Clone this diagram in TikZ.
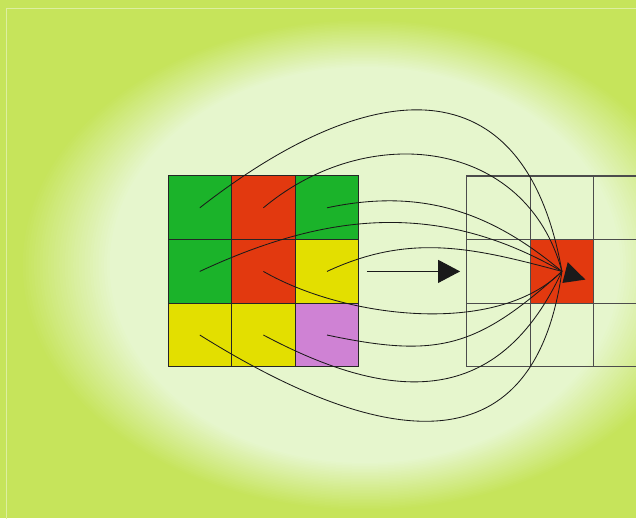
\documentclass[tikz,border=0pt]{standalone}
\usepackage{xcolor}
\definecolor{leaf}{HTML}{1BB32A}
\definecolor{rust}{HTML}{E2390F}
\definecolor{lemon}{HTML}{E3DF00}
\definecolor{orchid}{HTML}{CF82D4}
\definecolor{bgout}{HTML}{C6E45B}
\definecolor{bgin}{HTML}{E6F6CD}
\definecolor{rim}{HTML}{DDEFA0}
\definecolor{ink}{HTML}{1A1A1A}
\usetikzlibrary{arrows.meta, positioning}

\begin{document}
\begin{tikzpicture}[x=0.025cm, y=0.025cm,
    cell/.style={draw=black!85, line width=0.7pt, minimum size=1.59cm, inner sep=0pt, outer sep=0pt},
    slot/.style={draw=black!70, line width=0.8pt, minimum size=1.59cm, inner sep=0pt, outer sep=0pt},
    link/.style={draw=ink, line width=0.6pt},
    move/.style={draw=ink, line width=0.7pt, -{Triangle[length=0.55cm, width=0.575cm]}}]
  \useasboundingbox (0,0) rectangle (636,518);
  \clip (0,0) rectangle (636,518);
  % Backdrop: green rim fading into a pale oval.
  \fill[bgout] (0,0) rectangle (636,518);
  \foreach \k in {0,...,32} {
    \pgfmathsetmacro\mix{100*\k/32}
    \fill[bgin!\mix!bgout] (365,253) ellipse [x radius={(345-2.8*\k)*0.025cm}, y radius={(246-1.5*\k)*0.025cm}];
  }
  \draw[rim, line width=0.6pt] (6,-20) -- (6,510) -- (700,510);
  % Input grid.
  \node[cell, fill=leaf]                      (a11) at (199.8,310.2) {};
  \node[cell, fill=rust,   right=0pt of a11]  (a12) {};
  \node[cell, fill=leaf,   right=0pt of a12]  (a13) {};
  \node[cell, fill=leaf,   below=0pt of a11]  (a21) {};
  \node[cell, fill=rust,   right=0pt of a21]  (a22) {};
  \node[cell, fill=lemon,  right=0pt of a22]  (a23) {};
  \node[cell, fill=lemon,  below=0pt of a21]  (a31) {};
  \node[cell, fill=lemon,  right=0pt of a31]  (a32) {};
  \node[cell, fill=orchid, right=0pt of a32]  (a33) {};
  % Output grid, only the middle cell is filled.
  \node[slot]                      (b11) at (498.3,310.2) {};
  \node[slot, right=0pt of b11]    (b12) {};
  \node[slot, right=0pt of b12]    (b13) {};
  \node[slot, below=0pt of b11]    (b21) {};
  \node[slot, fill=rust, right=0pt of b21] (b22) {};
  \node[slot, right=0pt of b22]    (b23) {};
  \node[slot, below=0pt of b21]    (b31) {};
  \node[slot, right=0pt of b31]    (b32) {};
  \node[slot, right=0pt of b32]    (b33) {};
  % Every input cell feeds the target cell.
  \draw[link] (a11.center) to[out=38,  in=100, looseness=1.5]  (b22.center);
  \draw[link] (a12.center) to[out=40,  in=105, looseness=1.15] (b22.center);
  \draw[link] (a13.center) to[out=12,  in=140]                 (b22.center);
  \draw[link] (a21.center) to[out=25,  in=150]                 (b22.center);
  \draw[link] (a23.center) to[out=25,  in=165]                 (b22.center);
  \draw[link] (a22.center) to[out=-30, in=225, looseness=0.8]  (b22.center);
  \draw[link] (a33.center) to[out=-12, in=222, looseness=1.2]  (b22.center);
  \draw[link] (a32.center) to[out=-28, in=245, looseness=1.25] (b22.center);
  \draw[link] (a31.center) to[out=-32, in=262, looseness=1.44] (b22.center);
  \fill[ink] ([shift={(5.8,9.2)}]b22.center) -- ([shift={(23.5,-8.2)}]b22.center)
    -- ([shift={(0.5,-11.5)}]b22.center) -- cycle;
  % Step arrow between the grids.
  \coordinate (mvS) at ([xshift=0.2cm]a23.east);
  \coordinate (mvE) at ([xshift=-0.16cm]b21.west);
  \draw[move] (mvS) -- (mvE);
\end{tikzpicture}
\end{document}
